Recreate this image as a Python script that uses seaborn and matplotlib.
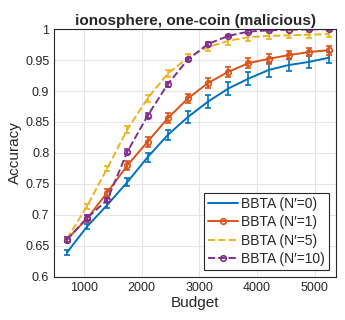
import numpy as np
import pandas as pd
import matplotlib
matplotlib.use('Agg')
import matplotlib.pyplot as plt
import seaborn as sns

budget = [700, 1050, 1400, 1750, 2100, 2450, 2800, 3150, 3500, 3850, 4200, 4550, 4900, 5250]

acc_n0 = [0.639, 0.681, 0.716, 0.753, 0.793, 0.829, 0.858, 0.883, 0.904, 0.920, 0.934, 0.942, 0.947, 0.954]
err_n0 = [0.004, 0.004, 0.005, 0.006, 0.007, 0.008, 0.009, 0.011, 0.011, 0.011, 0.011, 0.010, 0.010, 0.009]

acc_n1 = [0.660, 0.694, 0.736, 0.780, 0.818, 0.856, 0.888, 0.913, 0.931, 0.945, 0.952, 0.958, 0.963, 0.966]
err_n1 = [0.004, 0.005, 0.006, 0.007, 0.008, 0.008, 0.008, 0.008, 0.008, 0.008, 0.008, 0.007, 0.007, 0.007]

acc_n5 = [0.661, 0.714, 0.775, 0.838, 0.888, 0.928, 0.954, 0.971, 0.981, 0.987, 0.989, 0.990, 0.991, 0.992]
err_n5 = [0.004, 0.004, 0.004, 0.005, 0.006, 0.006, 0.006, 0.006, 0.006, 0.006, 0.005, 0.005, 0.005, 0.005]

acc_n10 = [0.660, 0.695, 0.724, 0.802, 0.860, 0.911, 0.951, 0.976, 0.989, 0.996, 0.998, 0.999, 0.9995, 1.0]
err_n10 = [0.004, 0.004, 0.004, 0.004, 0.004, 0.004, 0.003, 0.003, 0.002, 0.002, 0.001, 0.001, 0.001, 0.001]

labels = ['BBTA (N\u2032=0)', 'BBTA (N\u2032=1)', 'BBTA (N\u2032=5)', 'BBTA (N\u2032=10)']
colors = ['#0072BD', '#D95319', '#EDB120', '#7E2F8E']

sns.set_style('whitegrid')
plt.rcParams['font.family'] = ['Liberation Sans', 'DejaVu Sans']

fig = plt.figure(figsize=(3.45, 3.2), dpi=100)
ax = fig.add_axes([0.157, 0.135, 0.817, 0.774])

series = [
    (acc_n0, err_n0, '-', None),
    (acc_n1, err_n1, '-', 'o'),
    (acc_n5, err_n5, '--', None),
    (acc_n10, err_n10, '--', 'o'),
]
for (acc, err, ls, mk), lab, col in zip(series, labels, colors):
    df = pd.DataFrame({'Budget': budget, 'Accuracy': acc})
    sns.lineplot(data=df, x='Budget', y='Accuracy', ax=ax, color=col, linestyle=ls,
                 marker=mk, markersize=4, markerfacecolor='none', markeredgecolor=col,
                 markeredgewidth=1.2, linewidth=1.4, label=lab)
    ax.errorbar(budget, acc, yerr=err, fmt='none', ecolor=col, elinewidth=1.2,
                capsize=2.5, capthick=1.2)

ax.set_xlim(480, 5370)
ax.set_ylim(0.6, 1.0)
ax.set_xticks([1000, 2000, 3000, 4000, 5000])
ax.set_yticks([0.6, 0.65, 0.7, 0.75, 0.8, 0.85, 0.9, 0.95, 1.0])
ax.set_yticklabels(['0.6', '0.65', '0.7', '0.75', '0.8', '0.85', '0.9', '0.95', '1'])
ax.tick_params(labelsize=9, colors='#262626', length=3, direction='in')
ax.grid(True, color='#e6e6e6', linewidth=0.8)
for s in ax.spines.values():
    s.set_color('#262626')
    s.set_linewidth(0.8)

ax.set_title('ionosphere, one-coin (malicious)', fontsize=11, fontweight='bold', pad=3)
ax.set_xlabel('Budget', fontsize=11, color='#262626', labelpad=2)
ax.set_ylabel('Accuracy', fontsize=11, color='#262626', labelpad=2)

leg = ax.legend(loc='lower right', fontsize=10, frameon=True, fancybox=False,
                edgecolor='#262626', framealpha=1, borderpad=0.3, labelspacing=0.3,
                handlelength=2.2, handletextpad=0.2, borderaxespad=0.5)
leg.get_frame().set_linewidth(0.8)

fig.savefig('out.png', dpi=100)
